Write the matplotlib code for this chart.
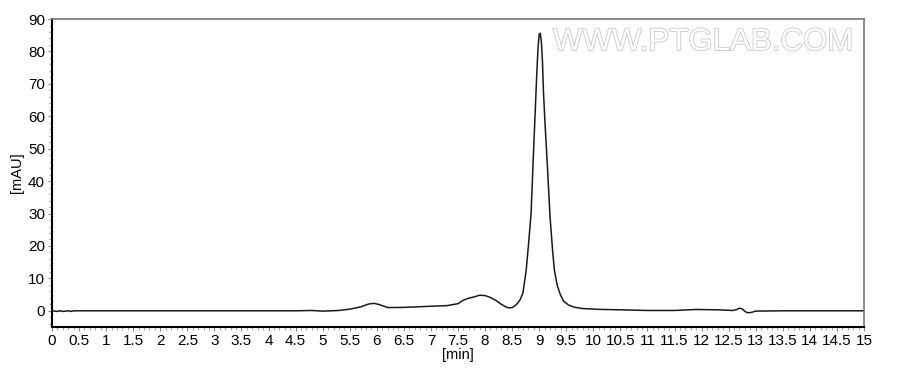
import numpy as np
import matplotlib
matplotlib.use('Agg')
import matplotlib.pyplot as plt
from matplotlib.ticker import MultipleLocator, FormatStrFormatter
import matplotlib.patheffects as pe

plt.rcParams['font.family'] = ['Liberation Sans', 'DejaVu Sans']

# retention time [min] and absorbance [mAU]
temps = [0.0, 0.1, 0.15, 0.2, 0.25, 0.3, 0.35, 0.4, 1.0, 2.0, 3.0, 4.0, 4.5, 4.8,
         5.0, 5.3, 5.5, 5.7, 5.85, 5.95, 6.05, 6.2, 6.5, 7.0, 7.3, 7.5, 7.6, 7.7,
         7.8, 7.9, 8.0, 8.1, 8.2, 8.3, 8.4, 8.45, 8.5, 8.55, 8.6, 8.65, 8.7,
         8.76, 8.8, 8.85, 8.89, 8.93, 8.96, 8.98, 9.0, 9.02, 9.04, 9.06, 9.08,
         9.11, 9.15, 9.2, 9.25, 9.28, 9.33, 9.39, 9.45, 9.54, 9.65, 9.8,
         10.12, 10.5, 11.0, 11.5, 11.9, 12.3, 12.58, 12.65, 12.7, 12.75,
         12.8, 12.85, 12.92, 13.0, 13.5, 14.0, 15.0]
mau = [0.0, -0.2, 0.0, -0.2, -0.1, 0.0, -0.2, 0.0, 0.0, 0.0, 0.0, 0.0, 0.0, 0.1,
       -0.1, 0.1, 0.5, 1.2, 2.1, 2.3, 1.9, 1.0, 1.05, 1.4, 1.6, 2.2, 3.3, 3.9,
       4.3, 4.8, 4.7, 4.1, 3.2, 2.0, 1.05, 0.9, 1.0, 1.5, 2.3, 3.5, 5.5,
       12.6, 20.0, 30.0, 47.0, 63.0, 75.0, 81.5, 85.3, 85.6, 83.0, 77.0, 67.0,
       57.0, 45.0, 29.0, 18.0, 12.6, 8.0, 5.0, 3.0, 1.8, 1.1, 0.7,
       0.43, 0.3, 0.1, 0.1, 0.4, 0.3, 0.1, 0.4, 0.8, 0.6,
       -0.2, -0.6, -0.5, -0.1, 0.0, 0.0, 0.0]

fig = plt.figure(figsize=(9, 3.7), dpi=100)
ax = fig.add_axes([0.0578, 0.1162, 0.9022, 0.8324])

ax.plot(temps, mau, color='#1a1a1a', lw=1.1)

ax.set_xlim(0, 15)
ax.set_ylim(-5, 90)
ax.xaxis.set_major_locator(MultipleLocator(0.5))
ax.xaxis.set_major_formatter(FormatStrFormatter('%g'))
ax.xaxis.set_minor_locator(MultipleLocator(0.1))
ax.yaxis.set_major_locator(MultipleLocator(10))
ax.yaxis.set_minor_locator(MultipleLocator(2))

ax.tick_params(which='major', length=3, width=0.8, color='#888888',
               labelsize=11, pad=2)
ax.tick_params(which='minor', length=2, width=0.8, color='#aaaaaa')

for s in ['left', 'bottom']:
    ax.spines[s].set_linewidth(1.5)
    ax.spines[s].set_color('black')
for s in ['top', 'right']:
    ax.spines[s].set_linewidth(1.2)
    ax.spines[s].set_color('#777777')

ax.set_xlabel('[min]', fontsize=10.5, labelpad=0)
ax.set_ylabel('[mAU]', fontsize=10.5, labelpad=3)

wm = ax.text(0.617, 0.925, 'WWW.PTGLAB.COM', transform=ax.transAxes,
             fontsize=22.5, color='white', ha='left', va='center')
wm.set_path_effects([pe.Stroke(linewidth=1.2, foreground='#c8c8c8'), pe.Normal()])

fig.savefig('out.png', dpi=100)
